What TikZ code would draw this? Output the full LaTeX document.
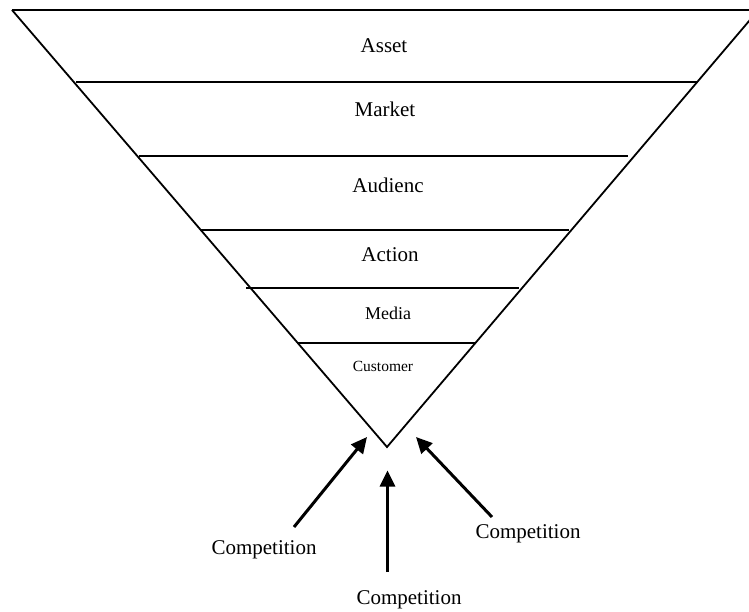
\documentclass[tikz,border=0pt]{standalone}
\usepackage{fontspec}
\setmainfont{Liberation Serif}
\usetikzlibrary{arrows.meta}

\begin{document}
\begin{tikzpicture}[x=1pt,y=-1pt,
  side/.style={line width=1.8pt},
  tier/.style={line width=2.3pt},
  label/.style={anchor=base,inner sep=0pt,font=\fontsize{21}{24}\selectfont},
  small/.style={anchor=base,inner sep=0pt,font=\fontsize{18}{21}\selectfont},
  tiny/.style={anchor=base,inner sep=0pt,font=\fontsize{15.5}{18}\selectfont},
  push/.style={line width=3pt,-{Triangle[length=16pt,width=15pt]}}]
  \useasboundingbox (0,0) rectangle (749,612);
  \clip (0,0) rectangle (749,612);

  % funnel outline
  \coordinate (tl) at (12,10);
  \coordinate (apex) at (387,447);
  \draw[side] (tl) -- (apex) -- (772,-6);
  \draw[side] (tl) -- (749,10);

  % tier separators
  \draw[tier] (76,81.7) -- (698,81.7);
  \draw[tier] (139,155.7) -- (628,155.7);
  \draw[tier] (200,229.7) -- (569,229.7);
  \draw[tier] (246,288) -- (519,288);
  \draw[tier] (297,342.7) -- (475,342.7);

  % tier labels
  \node[label] (asset) at (384,52.3) {Asset};
  \node[label] (market) at (385,116.7) {Market};
  \node[label] (audience) at (388,192.3) {Audienc};
  \node[label] (action) at (390,261.7) {Action};
  \node[small] (media) at (388,319.3) {Media};
  \node[tiny] (customer) at (383,371) {Customer};

  % competition labels
  \node[label] (compL) at (264,554.3) {Competition};
  \node[label] (compM) at (409,604.3) {Competition};
  \node[label] (compR) at (528,538.3) {Competition};

  % arrows pushing toward the apex
  \coordinate (tailL) at (294,527);
  \coordinate (tipL) at (367,437);
  \coordinate (tailM) at (387.5,572);
  \coordinate (tipM) at (387.5,470.5);
  \coordinate (tailR) at (492,517);
  \coordinate (tipR) at (416,437);
  \draw[push] (tailL) -- (tipL);
  \draw[push] (tailM) -- (tipM);
  \draw[push] (tailR) -- (tipR);
\end{tikzpicture}
\end{document}
